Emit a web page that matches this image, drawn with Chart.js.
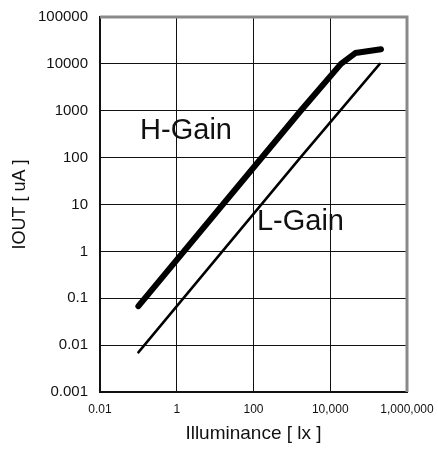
<!DOCTYPE html>
<html lang="en">
<head>
  <meta charset="UTF-8">
  <title>IOUT vs Illuminance</title>
  <style>
    body {
      margin: 0;
      background: #ffffff;
    }
    .chart-box {
      width: 438px;
      height: 451px;
      position: relative;
    }
  </style>
</head>
<body>
  <div class="chart-box">
    <canvas id="ioutChart"></canvas>
  </div>
  <script src="https://cdn.jsdelivr.net/npm/chart.js"></script>
  <script>
    // Illuminance [lx] / IOUT [uA]
    const hGainLux = [0.1, 1700, 19000, 45000, 210000];
    const hGainIout = [0.068, 1000, 10000, 17000, 20500];
    const lGainLux = [0.1, 1660, 195000];
    const lGainIout = [0.007, 100, 10000];

    const xTicks = [0.01, 1, 100, 10000, 1000000];
    const xTickLabels = ['0.01', '1', '100', '10,000', '1,000,000'];
    const yTicks = [0.001, 0.01, 0.1, 1, 10, 100, 1000, 10000, 100000];
    const yTickLabels = ['0.001', '0.01', '0.1', '1', '10', '100', '1000', '10000', '100000'];

    const curveLabels = [
      { text: 'H-Gain', x: 0.111, y: 250 },
      { text: 'L-Gain', x: 123, y: 2.8 }
    ];

    const toPoints = (xs, ys) => xs.map((x, i) => ({ x: x, y: ys[i] }));
    const fontFamily = '"Liberation Sans", Arial, sans-serif';

    // grey frame on top/right and the in-plot curve names
    const framePlugin = {
      id: 'frame',
      afterDraw(chart) {
        const { ctx, chartArea: a, scales } = chart;
        ctx.save();
        ctx.strokeStyle = '#8a8a8a';
        ctx.lineWidth = 3;
        ctx.beginPath();
        ctx.moveTo(a.left, a.top);
        ctx.lineTo(a.right, a.top);
        ctx.lineTo(a.right, a.bottom);
        ctx.stroke();
        ctx.fillStyle = '#111';
        ctx.font = '29px ' + fontFamily;
        ctx.textAlign = 'left';
        ctx.textBaseline = 'alphabetic';
        curveLabels.forEach(l => {
          ctx.fillText(l.text, scales.x.getPixelForValue(l.x), scales.y.getPixelForValue(l.y));
        });
        ctx.restore();
      }
    };

    new Chart(document.getElementById('ioutChart'), {
      type: 'scatter',
      data: {
        datasets: [
          {
            label: 'H-Gain',
            data: toPoints(hGainLux, hGainIout),
            showLine: true,
            borderColor: '#000',
            borderWidth: 6,
            borderCapStyle: 'round',
            borderJoinStyle: 'round',
            pointRadius: 0,
            tension: 0
          },
          {
            label: 'L-Gain',
            data: toPoints(lGainLux, lGainIout),
            showLine: true,
            borderColor: '#000',
            borderWidth: 2.5,
            borderCapStyle: 'round',
            pointRadius: 0,
            tension: 0
          }
        ]
      },
      options: {
        responsive: true,
        maintainAspectRatio: false,
        animation: false,
        layout: { padding: { top: 17, right: 31, left: 0, bottom: 0 } },
        plugins: {
          legend: { display: false },
          tooltip: { enabled: false }
        },
        scales: {
          x: {
            type: 'logarithmic',
            min: 0.01,
            max: 1000000,
            afterBuildTicks: s => { s.ticks = xTicks.map(v => ({ value: v })); },
            afterFit: s => { s.height = 59; s.paddingLeft = 0; s.paddingRight = 0; },
            grid: { color: '#111', lineWidth: 1, drawTicks: false },
            border: { color: '#111', width: 2 },
            ticks: {
              color: '#111',
              font: { family: fontFamily, size: 12 },
              padding: 10,
              maxRotation: 0,
              autoSkip: false,
              callback: (v, i) => xTickLabels[i]
            },
            title: {
              display: true,
              text: 'Illuminance [ lx ]',
              color: '#111',
              font: { family: fontFamily, size: 19 },
              padding: { top: 0, bottom: 6 }
            }
          },
          y: {
            type: 'logarithmic',
            min: 0.001,
            max: 100000,
            afterBuildTicks: s => { s.ticks = yTicks.map(v => ({ value: v })); },
            afterFit: s => { s.width = 100; s.paddingTop = 0; s.paddingBottom = 0; },
            grid: { color: '#111', lineWidth: 1, drawTicks: false },
            border: { color: '#111', width: 2 },
            ticks: {
              color: '#111',
              font: { family: fontFamily, size: 15 },
              padding: 12,
              autoSkip: false,
              callback: (v, i) => yTickLabels[i]
            },
            title: {
              display: true,
              text: 'IOUT [ uA ]',
              color: '#111',
              font: { family: fontFamily, size: 18 },
              padding: { top: 9, bottom: 0 }
            }
          }
        }
      },
      plugins: [framePlugin]
    });
  </script>
</body>
</html>
